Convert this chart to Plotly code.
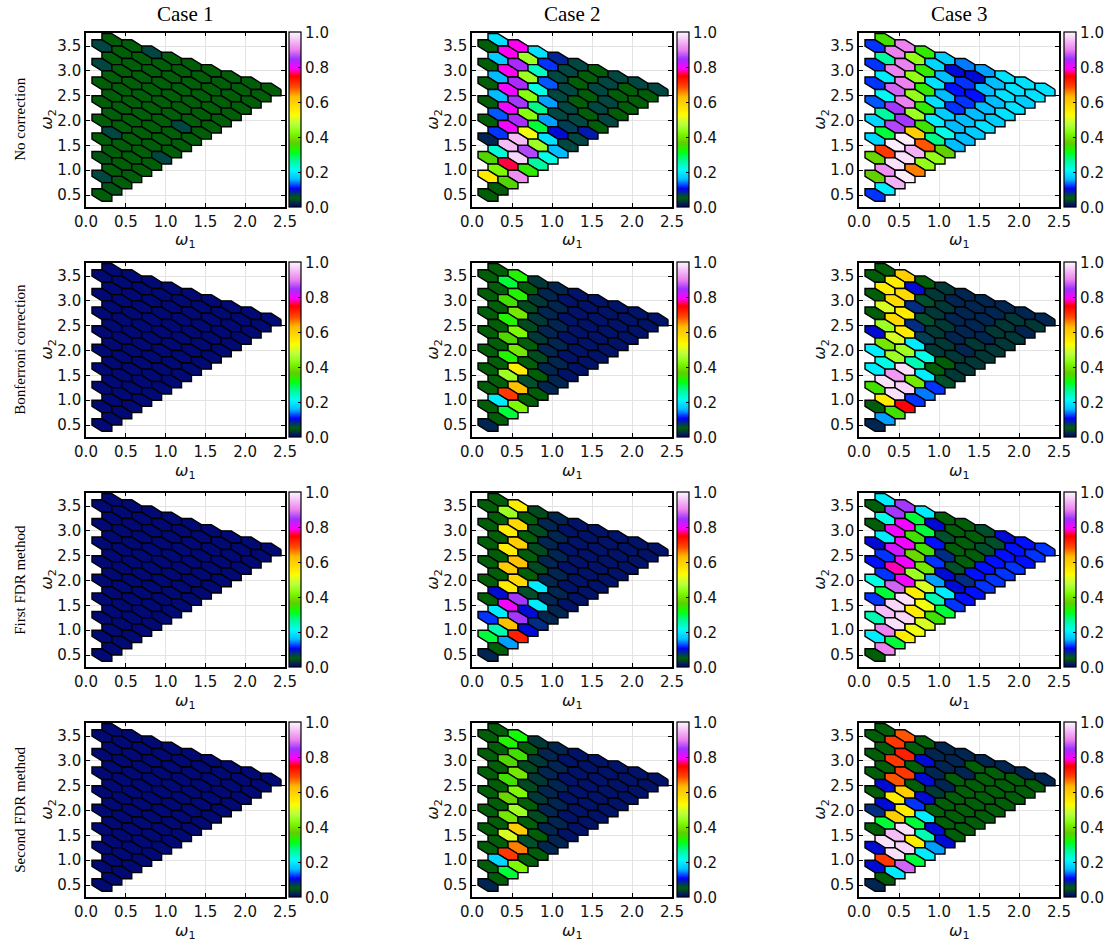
import numpy as np
import plotly.graph_objects as go
from plotly.colors import sample_colorscale

W, H = 1112, 947

# ---------------- data ----------------
case_titles = ["Case 1", "Case 2", "Case 3"]
method_labels = ["No correction", "Bonferroni correction", "First FDR method", "Second FDR method"]
x_ticks = [0.0, 0.5, 1.0, 1.5, 2.0, 2.5]
y_ticks = [0.5, 1.0, 1.5, 2.0, 2.5, 3.0, 3.5]
cbar_ticks = [0.0, 0.2, 0.4, 0.6, 0.8, 1.0]

# (omega1, omega2) grid: steps of 0.125 starting at (0.2, 0.5)
omega1_start, omega2_start, step = 0.2, 0.5, 0.125

# rejection rates along the diagonal rows of the grid (top row first), each row left -> right
# row lengths: 9,9,8,8,7,7,6,6,5,5,4,4,3,3,2,2,1,1
c1_none = [
    [0.05, 0.05, 0.065, 0.05, 0.05, 0.05, 0.05, 0.05, 0.05],
    [0.065, 0.05, 0.05, 0.05, 0.05, 0.05, 0.05, 0.05, 0.05],
    [0.05, 0.05, 0.05, 0.05, 0.05, 0.05, 0.05, 0.05],
    [0.065, 0.05, 0.05, 0.05, 0.05, 0.05, 0.05, 0.05],
    [0.05, 0.05, 0.05, 0.05, 0.05, 0.05, 0.05],
    [0.05, 0.05, 0.05, 0.05, 0.05, 0.05, 0.05],
    [0.05, 0.05, 0.05, 0.05, 0.05, 0.05],
    [0.05, 0.05, 0.05, 0.05, 0.065, 0.05],
    [0.05, 0.05, 0.05, 0.05, 0.05],
    [0.05, 0.05, 0.05, 0.05, 0.05],
    [0.065, 0.05, 0.05, 0.05],
    [0.05, 0.05, 0.05, 0.065],
    [0.05, 0.05, 0.05],
    [0.045, 0.05, 0.05],
    [0.05, 0.05],
    [0.065, 0.05],
    [0.045],
    [0.05],
]
c1_bonf = [[0.005] * 9, [0.005] * 9, [0.005] * 8, [0.005] * 8, [0.005] * 7, [0.005] * 7,
           [0.005] * 6, [0.005] * 6, [0.005] * 5, [0.005] * 5, [0.005] * 4, [0.005] * 4,
           [0.005] * 3, [0.005] * 3, [0.005] * 2, [0.005] * 2, [0.005], [0.005]]
c1_fdr1 = [[0.005] * 9, [0.005] * 9, [0.005] * 8, [0.005] * 8, [0.005] * 7, [0.005] * 7,
           [0.005] * 6, [0.005] * 6, [0.005] * 5, [0.005] * 5, [0.005] * 4, [0.005] * 4,
           [0.005] * 3, [0.005] * 3, [0.005] * 2, [0.005] * 2, [0.005], [0.005]]
c1_fdr2 = [[0.005] * 9, [0.005] * 9, [0.005] * 8, [0.005] * 8, [0.005] * 7, [0.005] * 7,
           [0.005] * 6, [0.005] * 6, [0.005] * 5, [0.005] * 5, [0.005] * 4, [0.005] * 4,
           [0.005] * 3, [0.005] * 3, [0.005] * 2, [0.005] * 2, [0.005], [0.005]]

c2_none = [
    [0.19, 0.79, 0.19, 0.085, 0.065, 0.05, 0.065, 0.065, 0.065],
    [0.05, 0.79, 0.45, 0.12, 0.065, 0.05, 0.065, 0.05, 0.05],
    [0.17, 0.84, 0.24, 0.065, 0.05, 0.065, 0.05, 0.05],
    [0.05, 0.79, 0.45, 0.13, 0.065, 0.05, 0.065, 0.05],
    [0.16, 0.84, 0.22, 0.065, 0.05, 0.065, 0.05],
    [0.05, 0.80, 0.43, 0.15, 0.065, 0.05, 0.065],
    [0.16, 0.85, 0.27, 0.065, 0.065, 0.05],
    [0.05, 0.80, 0.43, 0.15, 0.07, 0.09],
    [0.13, 0.84, 0.30, 0.10, 0.065],
    [0.05, 0.80, 0.52, 0.19, 0.065],
    [0.12, 0.95, 0.45, 0.16],
    [0.02, 0.95, 0.86, 0.22],
    [0.23, 0.97, 0.26],
    [0.36, 0.76, 0.34],
    [0.42, 0.91],
    [0.55, 0.36],
    [0.05],
    [0.05],
]
c2_bonf = [
    [0.05, 0.33, 0.03, 0.02, 0.01, 0.01, 0.01, 0.01, 0.01],
    [0.05, 0.30, 0.05, 0.02, 0.01, 0.01, 0.01, 0.01, 0.01],
    [0.05, 0.33, 0.03, 0.02, 0.01, 0.01, 0.01, 0.01],
    [0.05, 0.35, 0.04, 0.02, 0.01, 0.01, 0.01, 0.01],
    [0.05, 0.40, 0.03, 0.02, 0.01, 0.01, 0.01],
    [0.05, 0.33, 0.04, 0.02, 0.01, 0.01, 0.01],
    [0.05, 0.42, 0.03, 0.02, 0.01, 0.01],
    [0.05, 0.36, 0.05, 0.02, 0.01, 0.01],
    [0.05, 0.40, 0.04, 0.02, 0.01],
    [0.05, 0.33, 0.05, 0.02, 0.01],
    [0.05, 0.55, 0.05, 0.02],
    [0.05, 0.45, 0.06, 0.02],
    [0.05, 0.62, 0.05],
    [0.05, 0.70, 0.05],
    [0.20, 0.42],
    [0.05, 0.30],
    [0.05],
    [0.02],
]
c2_fdr1 = [
    [0.05, 0.55, 0.04, 0.02, 0.01, 0.01, 0.01, 0.01, 0.01],
    [0.05, 0.45, 0.05, 0.02, 0.01, 0.01, 0.01, 0.01, 0.01],
    [0.05, 0.58, 0.04, 0.02, 0.01, 0.01, 0.01, 0.01],
    [0.05, 0.55, 0.05, 0.02, 0.01, 0.01, 0.01, 0.01],
    [0.05, 0.60, 0.04, 0.02, 0.01, 0.01, 0.01],
    [0.05, 0.55, 0.05, 0.02, 0.01, 0.01, 0.01],
    [0.05, 0.62, 0.04, 0.02, 0.01, 0.01],
    [0.05, 0.60, 0.05, 0.02, 0.01, 0.01],
    [0.05, 0.58, 0.20, 0.02, 0.01],
    [0.05, 0.55, 0.06, 0.02, 0.01],
    [0.10, 0.85, 0.20, 0.02],
    [0.05, 0.80, 0.10, 0.02],
    [0.20, 0.85, 0.08],
    [0.12, 0.62, 0.10],
    [0.25, 0.72],
    [0.30, 0.15],
    [0.05],
    [0.02],
]
c2_fdr2 = [
    [0.05, 0.32, 0.03, 0.02, 0.01, 0.01, 0.01, 0.01, 0.01],
    [0.05, 0.33, 0.05, 0.02, 0.01, 0.01, 0.01, 0.01, 0.01],
    [0.05, 0.35, 0.03, 0.02, 0.01, 0.01, 0.01, 0.01],
    [0.05, 0.36, 0.04, 0.02, 0.01, 0.01, 0.01, 0.01],
    [0.05, 0.40, 0.03, 0.02, 0.01, 0.01, 0.01],
    [0.05, 0.35, 0.04, 0.02, 0.01, 0.01, 0.01],
    [0.05, 0.42, 0.03, 0.02, 0.01, 0.01],
    [0.05, 0.38, 0.05, 0.02, 0.01, 0.01],
    [0.05, 0.45, 0.04, 0.02, 0.01],
    [0.05, 0.40, 0.05, 0.02, 0.01],
    [0.05, 0.60, 0.05, 0.02],
    [0.05, 0.50, 0.06, 0.02],
    [0.05, 0.66, 0.05],
    [0.05, 0.70, 0.05],
    [0.18, 0.42],
    [0.05, 0.30],
    [0.05],
    [0.02],
]

c3_none = [
    [0.35, 0.90, 0.34, 0.17, 0.14, 0.15, 0.19, 0.19, 0.19],
    [0.12, 0.90, 0.44, 0.18, 0.10, 0.10, 0.16, 0.19, 0.19],
    [0.26, 0.90, 0.34, 0.16, 0.12, 0.16, 0.19, 0.17],
    [0.12, 0.90, 0.44, 0.19, 0.11, 0.11, 0.16, 0.19],
    [0.20, 0.90, 0.34, 0.16, 0.12, 0.16, 0.19],
    [0.12, 0.88, 0.44, 0.19, 0.12, 0.16, 0.17],
    [0.21, 0.90, 0.34, 0.17, 0.16, 0.19],
    [0.13, 0.85, 0.45, 0.20, 0.16, 0.17],
    [0.26, 0.85, 0.35, 0.22, 0.16],
    [0.18, 0.86, 0.60, 0.27, 0.16],
    [0.30, 0.99, 0.68, 0.37],
    [0.18, 0.99, 0.94, 0.44],
    [0.70, 0.98, 0.44],
    [0.38, 0.98, 0.66],
    [0.91, 0.99],
    [0.37, 0.94],
    [0.20],
    [0.12],
]
c3_bonf = [
    [0.05, 0.60, 0.05, 0.03, 0.02, 0.02, 0.02, 0.02, 0.02],
    [0.05, 0.55, 0.10, 0.03, 0.02, 0.02, 0.02, 0.03, 0.03],
    [0.55, 0.58, 0.06, 0.03, 0.02, 0.02, 0.03, 0.02],
    [0.05, 0.58, 0.08, 0.03, 0.02, 0.02, 0.03, 0.03],
    [0.50, 0.55, 0.06, 0.03, 0.02, 0.02, 0.03],
    [0.05, 0.58, 0.08, 0.03, 0.02, 0.03, 0.03],
    [0.45, 0.55, 0.07, 0.03, 0.02, 0.03],
    [0.10, 0.50, 0.20, 0.03, 0.03, 0.03],
    [0.40, 0.45, 0.22, 0.05, 0.03],
    [0.20, 0.45, 0.25, 0.05, 0.03],
    [0.22, 0.98, 0.20, 0.06],
    [0.20, 0.92, 0.40, 0.12],
    [0.98, 0.97, 0.14],
    [0.35, 0.98, 0.12],
    [0.55, 0.75],
    [0.05, 0.35],
    [0.15],
    [0.02],
]
c3_fdr1 = [
    [0.20, 0.85, 0.20, 0.05, 0.05, 0.06, 0.10, 0.11, 0.12],
    [0.05, 0.85, 0.30, 0.10, 0.05, 0.05, 0.06, 0.11, 0.12],
    [0.22, 0.80, 0.30, 0.06, 0.05, 0.06, 0.11, 0.11],
    [0.05, 0.80, 0.35, 0.11, 0.05, 0.05, 0.11, 0.12],
    [0.20, 0.80, 0.35, 0.08, 0.05, 0.11, 0.12],
    [0.10, 0.82, 0.38, 0.12, 0.06, 0.11, 0.12],
    [0.12, 0.80, 0.40, 0.10, 0.08, 0.12],
    [0.11, 0.78, 0.45, 0.15, 0.10, 0.11],
    [0.12, 0.80, 0.50, 0.20, 0.11],
    [0.22, 0.88, 0.55, 0.25, 0.12],
    [0.30, 0.98, 0.52, 0.30],
    [0.12, 0.97, 0.55, 0.35],
    [0.95, 0.97, 0.50],
    [0.25, 0.98, 0.52],
    [0.90, 0.55],
    [0.20, 0.30],
    [0.90],
    [0.05],
]
c3_fdr2 = [
    [0.05, 0.68, 0.05, 0.02, 0.02, 0.02, 0.02, 0.02, 0.02],
    [0.05, 0.70, 0.05, 0.02, 0.02, 0.05, 0.05, 0.05, 0.05],
    [0.05, 0.72, 0.10, 0.02, 0.02, 0.05, 0.05, 0.05],
    [0.05, 0.70, 0.05, 0.02, 0.05, 0.05, 0.05, 0.05],
    [0.05, 0.70, 0.10, 0.02, 0.05, 0.05, 0.05],
    [0.05, 0.68, 0.05, 0.03, 0.05, 0.05, 0.05],
    [0.10, 0.60, 0.10, 0.05, 0.05, 0.05],
    [0.05, 0.55, 0.12, 0.05, 0.05, 0.05],
    [0.10, 0.55, 0.20, 0.05, 0.05],
    [0.08, 0.60, 0.30, 0.10, 0.05],
    [0.30, 0.98, 0.25, 0.10],
    [0.05, 0.95, 0.55, 0.15],
    [0.98, 0.97, 0.20],
    [0.10, 0.98, 0.30],
    [0.70, 0.88],
    [0.10, 0.20],
    [0.05],
    [0.02],
]

panels = [
    [c1_none, c2_none, c3_none],
    [c1_bonf, c2_bonf, c3_bonf],
    [c1_fdr1, c2_fdr1, c3_fdr1],
    [c1_fdr2, c2_fdr2, c3_fdr2],
]

# ---------------- colormap (gist_ncar-like) ----------------
RED = [(0.0, 0.0), (0.3098, 0.0), (0.3725, 0.3993), (0.4235, 0.5003), (0.5333, 1.0),
       (0.7922, 1.0), (0.8471, 0.6218), (0.8980, 0.9235), (1.0, 0.9961)]
GREEN = [(0.0, 0.0), (0.0510, 0.3722), (0.1059, 0.0), (0.1569, 0.7202), (0.1647, 0.7752),
         (0.2157, 1.0), (0.2588, 0.9804), (0.2706, 0.9804), (0.3176, 1.0), (0.3686, 0.8081),
         (0.4275, 1.0), (0.5216, 1.0), (0.6314, 0.7292), (0.6863, 0.2796), (0.7451, 0.0),
         (0.7922, 0.0), (0.8431, 0.1753), (0.8980, 0.5), (1.0, 0.9725)]
BLUE = [(0.0, 0.5020), (0.0510, 0.0222), (0.1098, 1.0), (0.2039, 1.0), (0.2627, 0.6145),
        (0.3216, 0.0), (0.4157, 0.0), (0.4745, 0.2342), (0.5333, 0.0), (0.7490, 0.0),
        (0.7922, 1.0), (0.8471, 1.0), (0.8980, 0.9341), (1.0, 0.9961)]


def chan(seg, s):
    return np.interp(s, [p[0] for p in seg], [p[1] for p in seg])


ss = np.linspace(0, 1, 201)
colorscale = [[float(s), "rgb(%d,%d,%d)" % (round(chan(RED, s) * 255), round(chan(GREEN, s) * 255),
                                           round(chan(BLUE, s) * 255))] for s in ss]

# ---------------- layout geometry ----------------
col_px = [(86, 285), (472, 672), (859, 1059)]
row_px = [(32.5, 207), (262.5, 437), (492.5, 667), (722.5, 897)]
cbar_left = [289, 677, 1064]
y_range = [0.259, 3.772]

# hexagon vertex offsets in lattice units
hex_off = [(1, 0), (0, 1), (-1, 1), (-1, 0), (0, -1), (1, -1), (1, 0)]


def lattice_rows():
    rows = []
    for k in range(8, -1, -1):
        rows.append([(1 + 2 * t, 3 * k + 1 - t) for t in range(k + 1)])
        rows.append([(2 * t, 3 * k - t) for t in range(k + 1)])
    return rows


LROWS = lattice_rows()

fig = go.Figure()
layout = dict(template="none", width=W, height=H, margin=dict(l=0, r=0, t=0, b=0, pad=0),
              plot_bgcolor="white", paper_bgcolor="white", showlegend=False)
annotations = []
FONT = "DejaVu Sans"
SERIF = "Liberation Serif"
TXT = "#111111"

for r in range(4):
    for c in range(3):
        p = r * 3 + c + 1
        xa = "x" if p == 1 else "x%d" % p
        ya = "y" if p == 1 else "y%d" % p
        vals = panels[r][c]
        cx_all, cy_all, v_all = [], [], []
        for lrow, vrow in zip(LROWS, vals):
            for (m, n), v in zip(lrow, vrow):
                xs = [omega1_start + step * (m + dx) for dx, dy in hex_off]
                ys = [omega2_start + step * (n + dy) for dx, dy in hex_off]
                col = sample_colorscale(colorscale, [min(max(v, 0), 1)])[0]
                fig.add_trace(go.Scatter(x=xs, y=ys, mode="lines", fill="toself", fillcolor=col,
                                         line=dict(color="black", width=1.4), hoverinfo="skip",
                                         xaxis=xa, yaxis=ya))
                cx_all.append(omega1_start + step * m)
                cy_all.append(omega2_start + step * n)
                v_all.append(v)
        y0, y1 = row_px[r]
        fig.add_trace(go.Scatter(
            x=cx_all, y=cy_all, mode="markers", xaxis=xa, yaxis=ya,
            marker=dict(size=1, opacity=0, color=v_all, cmin=0, cmax=1, colorscale=colorscale,
                        showscale=True,
                        colorbar=dict(x=cbar_left[c] / W, xanchor="left", xpad=0, ypad=0,
                                      y=1 - (y0 + y1) / 2 / H, yanchor="middle",
                                      len=(y1 - y0) / H, lenmode="fraction", thickness=12,
                                      outlinewidth=1.2, outlinecolor="black",
                                      tickvals=cbar_ticks, ticktext=["%.1f" % t for t in cbar_ticks],
                                      ticks="inside", ticklen=3, tickcolor="black",
                                      tickfont=dict(family=FONT, size=15, color=TXT))),
            hovertemplate="ω1=%{x:.3f}<br>ω2=%{y:.3f}<br>%{marker.color:.3f}<extra></extra>"))
        x0, x1 = col_px[c]
        axkey = "xaxis" if p == 1 else "xaxis%d" % p
        aykey = "yaxis" if p == 1 else "yaxis%d" % p
        common = dict(ticks="inside", ticklen=4, tickcolor="black", tickwidth=1,
                      showline=True, linecolor="black", linewidth=1.6, mirror="ticks",
                      showgrid=True, gridcolor="#e3e3e3", gridwidth=1, zeroline=False,
                      automargin=False, tickfont=dict(family=FONT, size=15, color=TXT),
                      fixedrange=True)
        layout[axkey] = dict(domain=[x0 / W, x1 / W], anchor=ya, range=[0, 2.5],
                             tickvals=x_ticks, ticktext=["%.1f" % t for t in x_ticks], **common)
        layout[aykey] = dict(domain=[1 - y1 / H, 1 - y0 / H], anchor=xa, range=y_range,
                             tickvals=y_ticks, ticktext=["%.1f" % t for t in y_ticks], **common)
        # axis labels
        annotations.append(dict(text="<i>ω</i><sub>1</sub>", x=(x0 + x1) / 2 / W, y=1 - (y1 + 34) / H,
                                xref="paper", yref="paper", showarrow=False,
                                xanchor="center", yanchor="middle",
                                font=dict(family=FONT, size=16, color=TXT)))
        annotations.append(dict(text="<i>ω</i><sub>2</sub>", x=(x0 - 38) / W, y=1 - (y0 + y1) / 2 / H,
                                xref="paper", yref="paper", showarrow=False, textangle=-90,
                                xanchor="center", yanchor="middle",
                                font=dict(family=FONT, size=16, color=TXT)))
    annotations.append(dict(text=method_labels[r], x=20 / W, y=1 - sum(row_px[r]) / 2 / H,
                            xref="paper", yref="paper", showarrow=False, textangle=-90,
                            xanchor="center", yanchor="middle",
                            font=dict(family=SERIF, size=15, color="black")))

for c in range(3):
    annotations.append(dict(text=case_titles[c], x=sum(col_px[c]) / 2 / W, y=1 - 14 / H,
                            xref="paper", yref="paper", showarrow=False,
                            xanchor="center", yanchor="middle",
                            font=dict(family=SERIF, size=21, color="black")))

layout["annotations"] = annotations
fig.update_layout(**layout)
fig.write_html("out.html", config={"displayModeBar": False},
               post_script="document.body.style.margin='0';document.body.style.overflow='hidden';")
